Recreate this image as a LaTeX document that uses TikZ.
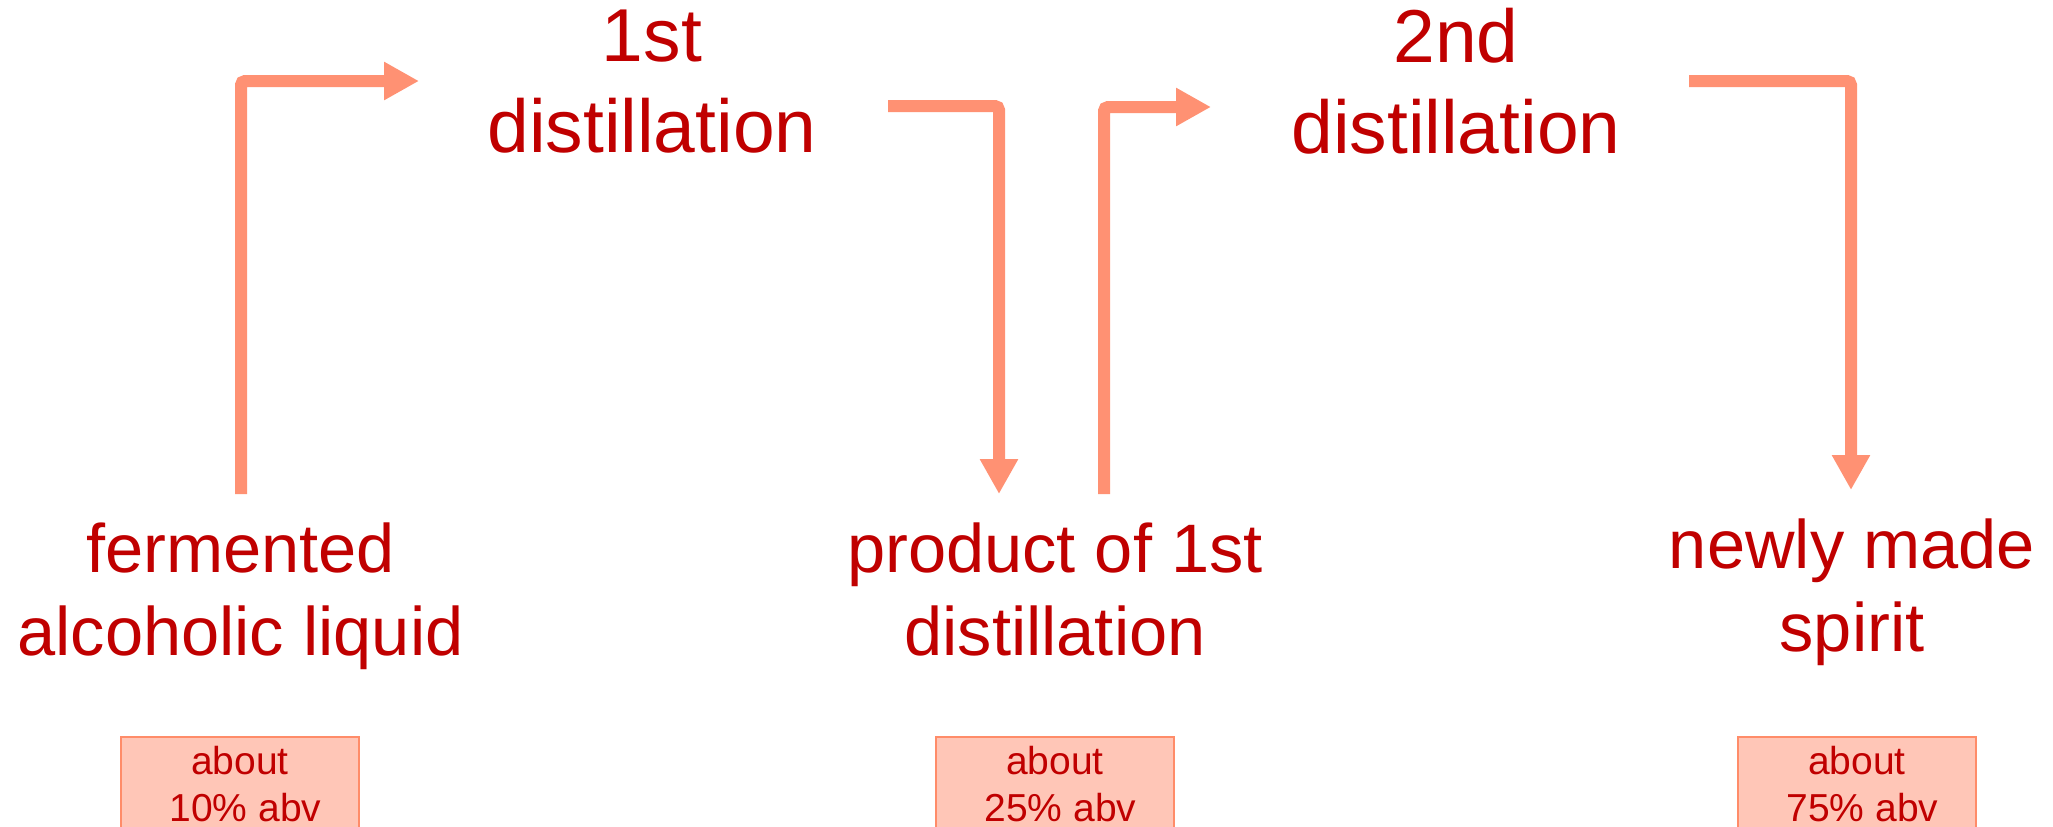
\documentclass[tikz,border=0pt]{standalone}
\usepackage{fontspec}
\setmainfont{Liberation Sans}
\usetikzlibrary{arrows.meta}
\definecolor{txtred}{RGB}{192,0,0}
\definecolor{arrowsalmon}{RGB}{255,145,115}
\definecolor{boxfill}{RGB}{255,198,183}
\definecolor{boxline}{RGB}{255,140,105}
\tikzset{
  toplabel/.style={align=center, text=txtred, inner sep=0pt,
    font=\fontsize{37.5}{45.5}\selectfont},
  botlabel/.style={align=center, text=txtred, inner sep=0pt,
    font=\fontsize{34.3}{41.5}\selectfont},
  abvbox/.style={draw=boxline, line width=1pt, fill=boxfill, align=center,
    text=txtred, anchor=north, inner ysep=4.5pt, minimum width=119pt,
    font=\fontsize{19.5}{23.5}\selectfont},
  flow/.style={draw=arrowsalmon, line width=6pt, rounded corners=2pt,
    -{Triangle[length=17.5pt,width=18pt]}}
}
\begin{document}
\begin{tikzpicture}[x=0.5pt,y=-0.5pt]
\useasboundingbox (0,0) rectangle (2053,826);
\clip (0,0) rectangle (2053,826);
% labels
\node[toplabel] (first) at (652,82) {1st\\distillation};
\node[toplabel] (second) at (1456,81.5) {2nd\\distillation};
\node[botlabel] (ferm) at (240.5,596) {fermented\\alcoholic liquid};
\node[botlabel] (prod) at (1055,589) {product of 1st\\distillation};
\node[botlabel] (spirit) at (1852,592) {newly made\\spirit};
% abv boxes
\node[abvbox] (abv1) at (240,736) {about\\~10\% abv};
\node[abvbox] (abv2) at (1055,736) {about\\~25\% abv};
\node[abvbox] (abv3) at (1857,736) {about\\~75\% abv};
% connector coordinates
\coordinate (a1s) at (241,494);
\coordinate (a1c) at (241,81);
\coordinate (a1e) at (419,81);
\coordinate (a2s) at (888,106);
\coordinate (a2c) at (999,106);
\coordinate (a2e) at (999,494);
\coordinate (a3s) at (1104,494);
\coordinate (a3c) at (1104,107);
\coordinate (a3e) at (1211,107);
\coordinate (a4s) at (1689,81);
\coordinate (a4c) at (1851,81);
\coordinate (a4e) at (1851,490);
% arrows
\draw[flow] (a1s) -- (a1c) -- (a1e);
\draw[flow] (a2s) -- (a2c) -- (a2e);
\draw[flow] (a3s) -- (a3c) -- (a3e);
\draw[flow] (a4s) -- (a4c) -- (a4e);
\end{tikzpicture}
\end{document}
